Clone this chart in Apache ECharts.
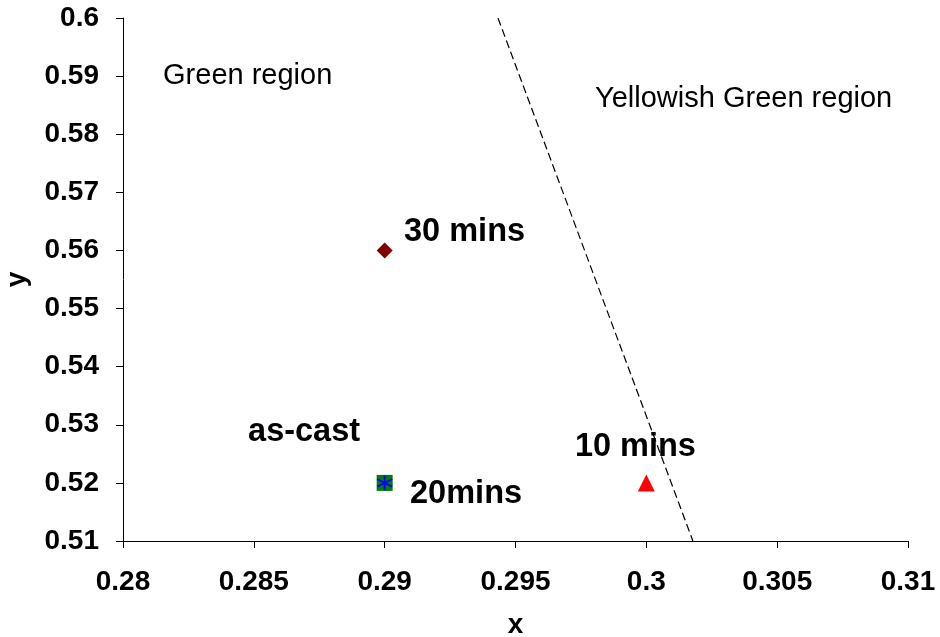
<!DOCTYPE html>
<html><head><meta charset="utf-8">
<script src="https://cdn.jsdelivr.net/npm/echarts@6/dist/echarts.min.js"></script>
<style>html,body{margin:0;padding:0;background:#fff}#c{width:940px;height:637px}</style>
</head><body><div id="c"></div>
<script>
const xTicks = [0.28, 0.285, 0.29, 0.295, 0.3, 0.305, 0.31];
const yTicks = [0.51, 0.52, 0.53, 0.54, 0.55, 0.56, 0.57, 0.58, 0.59, 0.6];
const asCast = [[0.29, 0.52]];
const min20 = [[0.29, 0.52]];
const min30 = [[0.29, 0.56]];
const min10 = [[0.3, 0.52]];
const boundary = [[0.29433, 0.6], [0.30178, 0.51]];
const pointLabels = [
  {name: '30 mins', value: [0.29074, 0.56317]},
  {name: 'as-cast', value: [0.28478, 0.52876]},
  {name: '20mins', value: [0.29097, 0.51809]},
  {name: '10 mins', value: [0.29727, 0.52618]}
];
const regionLabels = [
  {name: 'Green region', value: [0.28153, 0.59002]},
  {name: 'Yellowish Green region', value: [0.29804, 0.58606]}
];
const FONT = 'Liberation Sans, Arial, sans-serif';
const chart = echarts.init(document.getElementById('c'));
chart.setOption({
  animation: false,
  backgroundColor: '#fff',
  grid: {left: 123, top: 18, right: 32, bottom: 96, outerBoundsMode: 'none', containLabel: false},
  xAxis: {
    type: 'value', min: 0.28, max: 0.31, interval: 0.005,
    name: 'x', nameLocation: 'middle', nameGap: 70,
    nameTextStyle: {fontFamily: FONT, fontWeight: 'bold', fontSize: 28, color: '#000'},
    axisLine: {onZero: false, lineStyle: {color: '#000', width: 1}},
    axisTick: {show: true, length: 7, lineStyle: {color: '#000'}},
    axisLabel: {fontFamily: FONT, fontWeight: 'bold', fontSize: 28, color: '#000', margin: 27,
      formatter: v => String(+v.toFixed(3))},
    splitLine: {show: false}
  },
  yAxis: {
    type: 'value', min: 0.51, max: 0.6, interval: 0.01,
    name: 'y', nameLocation: 'middle', nameGap: 92, nameRotate: 90,
    nameTextStyle: {fontFamily: FONT, fontWeight: 'bold', fontSize: 28, color: '#000'},
    axisLine: {onZero: false, lineStyle: {color: '#000', width: 1}},
    axisTick: {show: true, length: 7, lineStyle: {color: '#000'}},
    axisLabel: {fontFamily: FONT, fontWeight: 'bold', fontSize: 28, color: '#000', margin: 24,
      formatter: v => String(+v.toFixed(2))},
    splitLine: {show: false}
  },
  series: [
    {type: 'line', data: boundary, symbol: 'none', lineStyle: {color: '#000', width: 1.2, type: [8, 4]}, z: 1},
    {type: 'scatter', data: asCast, symbol: 'rect', symbolSize: 16, itemStyle: {color: '#008000', opacity: 1}, z: 3},
    {type: 'scatter', data: min20, symbol: 'path://M0,-10L0,10M-8.66,-5L8.66,5M-8.66,5L8.66,-5', symbolSize: 15,
      itemStyle: {color: 'none', borderColor: '#0000ff', borderWidth: 2, opacity: 1}, z: 4},
    {type: 'scatter', data: min30, symbol: 'diamond', symbolSize: 16, itemStyle: {color: '#800000', opacity: 1}, z: 3},
    {type: 'scatter', data: min10, symbol: 'triangle', symbolSize: 17, itemStyle: {color: '#ff0000', opacity: 1}, z: 3},
    {type: 'scatter', data: pointLabels, symbolSize: 0, silent: true, itemStyle: {opacity: 1},
      label: {show: true, position: 'right', distance: 0, formatter: p => p.name,
        fontFamily: FONT, fontWeight: 'bold', fontSize: 32.5, color: '#000'}, z: 5},
    {type: 'scatter', data: regionLabels, symbolSize: 0, silent: true, itemStyle: {opacity: 1},
      label: {show: true, position: 'right', distance: 0, formatter: p => p.name,
        fontFamily: FONT, fontSize: 29, color: '#000'}, z: 5}
  ]
});
</script></body></html>
